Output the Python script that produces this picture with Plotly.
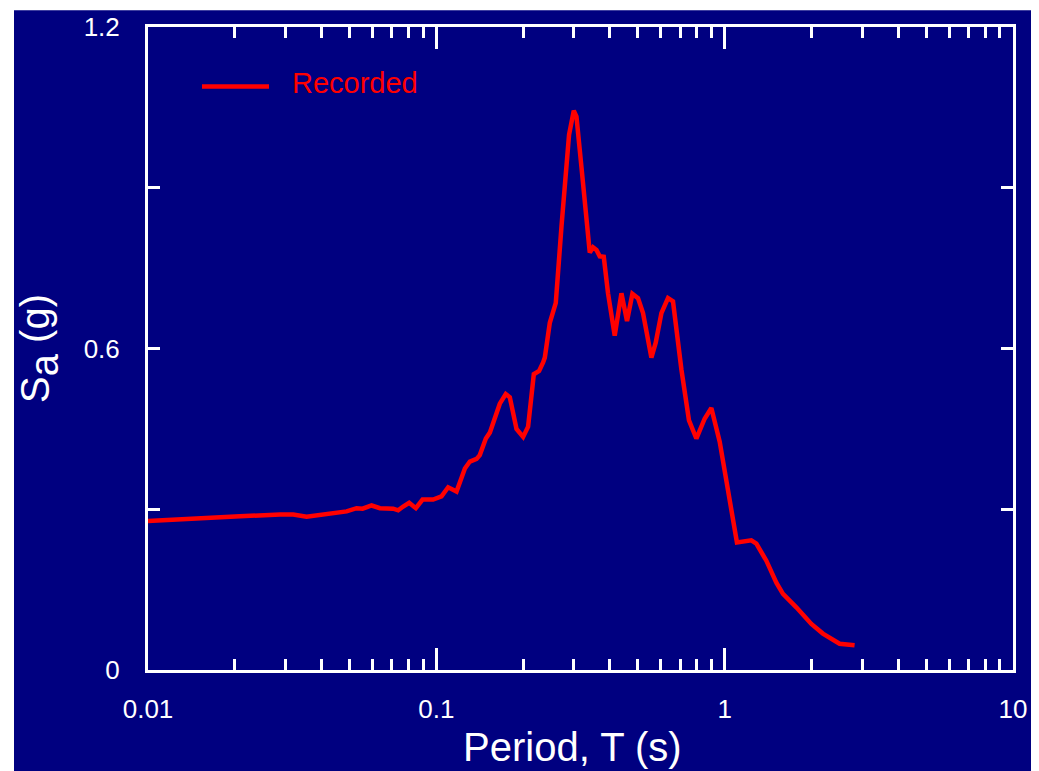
import plotly.graph_objects as go

# Response spectrum of the recorded ground motion (5% damping)
period_s = [
    0.0100, 0.01224, 0.01597, 0.02084, 0.02868, 0.03189, 0.03548, 0.03947,
    0.0451, 0.04883, 0.05289, 0.05549, 0.05963, 0.06371, 0.07085, 0.07373,
    0.07673, 0.08049, 0.0849, 0.08958, 0.09748, 0.1042, 0.1099, 0.1175,
    0.1256, 0.1307, 0.1379, 0.1415, 0.1485, 0.1533, 0.1660, 0.1741,
    0.1798, 0.1897, 0.2000, 0.2081, 0.2178, 0.2272, 0.2346, 0.2378,
    0.2475, 0.2596, 0.2716, 0.2886, 0.2997, 0.3062, 0.3187, 0.3298,
    0.3405, 0.3496, 0.3592, 0.3688, 0.3808, 0.3940, 0.4156, 0.4385,
    0.4585, 0.4786, 0.5005, 0.5210, 0.5570, 0.5766, 0.6034, 0.6360,
    0.6619, 0.7078, 0.7520, 0.7977, 0.8522, 0.8991, 0.9610, 1.103,
    1.237, 1.288, 1.395, 1.511, 1.593, 1.772, 1.998, 2.191,
    2.504, 2.822,
]
sa_recorded = [
    0.278, 0.281, 0.284, 0.287, 0.290, 0.290, 0.286, 0.289,
    0.292, 0.296, 0.302, 0.301, 0.307, 0.302, 0.301, 0.298,
    0.305, 0.312, 0.302, 0.318, 0.318, 0.324, 0.341, 0.333,
    0.376, 0.389, 0.394, 0.401, 0.432, 0.443, 0.497, 0.515,
    0.509, 0.450, 0.435, 0.454, 0.552, 0.558, 0.574, 0.583,
    0.648, 0.685, 0.827, 0.999, 1.044, 1.033, 0.938, 0.845,
    0.779, 0.789, 0.784, 0.772, 0.771, 0.703, 0.624, 0.703,
    0.651, 0.702, 0.694, 0.666, 0.583, 0.611, 0.666, 0.694,
    0.688, 0.561, 0.466, 0.432, 0.469, 0.489, 0.426, 0.238,
    0.242, 0.236, 0.204, 0.163, 0.142, 0.117, 0.086, 0.068,
    0.049, 0.046,
]

x_major = [0.01, 0.1, 1, 10]
x_major_text = ["0.01", "0.1", "1", "10"]
x_minor = [m * d for d in (0.01, 0.1, 1) for m in range(2, 10)]
y_major = [0, 0.6, 1.2]
y_major_text = ["0", "0.6", "1.2"]
y_minor = [0.3, 0.9]

NAVY = "#000080"
WHITE = "#FFFFFF"
RED = "#FF0000"
FONT = "Liberation Sans, Arial, sans-serif"

fig = go.Figure()
fig.add_trace(go.Scatter(
    x=period_s, y=sa_recorded, mode="lines", name="Recorded",
    line=dict(color=RED, width=4.5), showlegend=False,
))

W, H = 1039, 771
L, R, T, B = 148, 26, 22, 101
pw, ph = W - L - R, H - T - B


def px_x(px):
    return (px - L) / pw


def px_y(py):
    return (H - B - py) / ph


fig.update_layout(
    width=W, height=H,
    margin=dict(l=L, r=R, t=T, b=B, pad=0),
    paper_bgcolor=WHITE,
    plot_bgcolor=NAVY,
    font=dict(family=FONT, color=WHITE, size=26),
    shapes=[
        # navy panel behind the whole chart
        dict(type="rect", xref="paper", yref="paper", layer="below",
             x0=px_x(14), x1=px_x(1031), y0=px_y(790), y1=px_y(5),
             fillcolor=NAVY, line=dict(width=0)),
        # legend key
        dict(type="line", xref="paper", yref="paper",
             x0=px_x(202), x1=px_x(269), y0=px_y(82), y1=px_y(82),
             line=dict(color=RED, width=4.5)),
    ],
    annotations=[
        dict(text="Recorded", xref="paper", yref="paper",
             x=px_x(290), y=px_y(78), xanchor="left", yanchor="middle",
             showarrow=False, font=dict(color=RED, size=29, family=FONT)),
        dict(text="Period, T (s)", xref="paper", yref="paper",
             x=px_x(572), y=px_y(748), xanchor="center", yanchor="middle",
             showarrow=False, font=dict(color=WHITE, size=40, family=FONT)),
    ],
)

fig.update_xaxes(
    type="log", range=[-2, 1],
    tickmode="array", tickvals=x_major, ticktext=x_major_text,
    ticks="inside", ticklen=22, tickwidth=3, tickcolor=WHITE,
    minor=dict(tickmode="array", tickvals=x_minor, ticks="inside",
               ticklen=11, tickwidth=3, tickcolor=WHITE, showgrid=False),
    showline=True, linecolor=WHITE, linewidth=3, mirror="ticks",
    showgrid=False, zeroline=False,
    ticklabelstandoff=14,
    tickfont=dict(size=26, color=WHITE, family=FONT),
)
fig.update_yaxes(
    range=[0, 1.2],
    tickmode="array", tickvals=y_major, ticktext=y_major_text,
    ticks="inside", ticklen=12, tickwidth=3, tickcolor=WHITE,
    minor=dict(tickmode="array", tickvals=y_minor, ticks="inside",
               ticklen=12, tickwidth=3, tickcolor=WHITE, showgrid=False),
    showline=True, linecolor=WHITE, linewidth=3, mirror="ticks",
    showgrid=False, zeroline=False,
    ticklabelstandoff=20,
    tickfont=dict(size=26, color=WHITE, family=FONT),
    title=dict(text="S<sub><span style='font-size:40px'>a</span></sub> (g)",
               standoff=22, font=dict(size=40, color=WHITE, family=FONT)),
)

fig.write_html("out.html")
